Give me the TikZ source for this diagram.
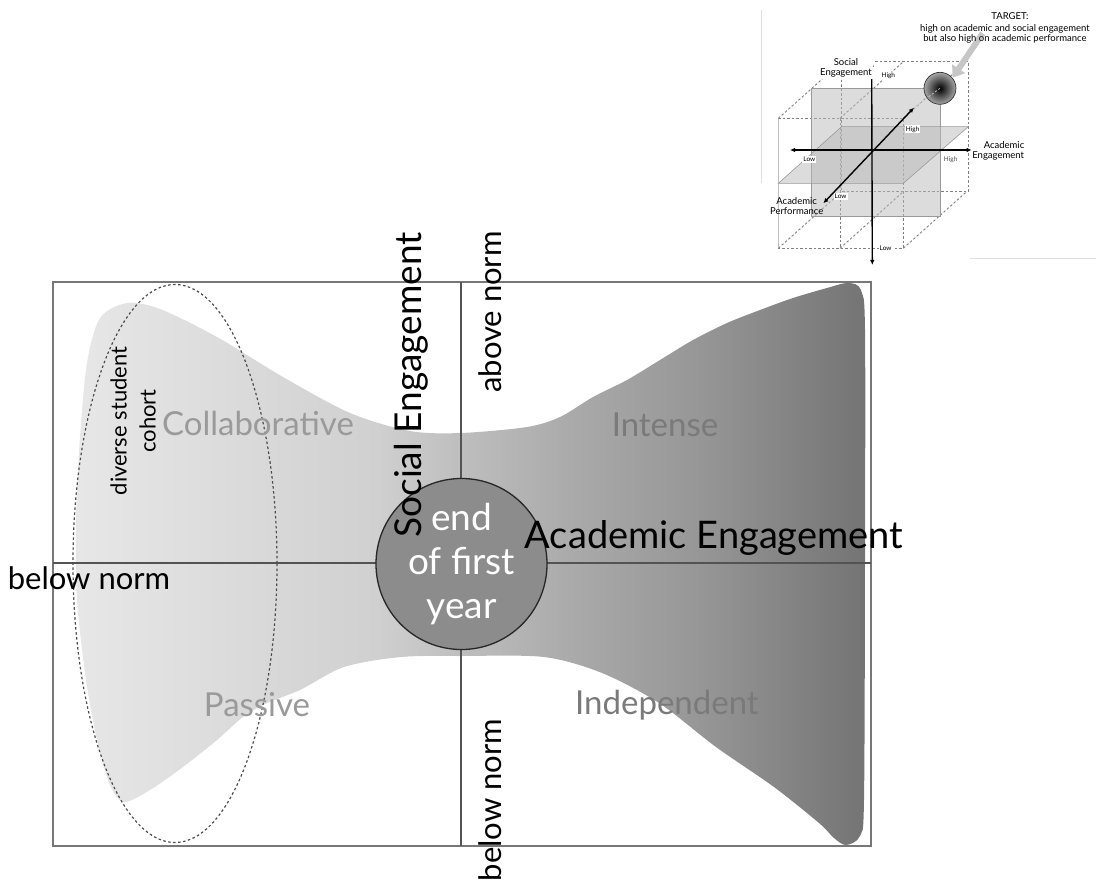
\documentclass[tikz,border=0pt]{standalone}
\usepackage{fontspec}
\setmainfont{Lato}
\usetikzlibrary{arrows.meta}

\definecolor{quadgray}{HTML}{9A9A9A}
\definecolor{quaddark}{HTML}{7A7A7A}
\definecolor{framegray}{HTML}{777777}
\definecolor{yeargray}{HTML}{8C8C8C}
\definecolor{shA}{HTML}{E7E7E7}
\definecolor{shB}{HTML}{D0D0D0}
\definecolor{shC}{HTML}{BCBCBC}
\definecolor{shD}{HTML}{ABABAB}
\definecolor{shE}{HTML}{959595}
\definecolor{shF}{HTML}{747474}

\pgfdeclarehorizontalshading{funnelshade}{100bp}{color(0bp)=(shA); color(25bp)=(shA);
  color(44bp)=(shB); color(50bp)=(shC); color(56bp)=(shD); color(65bp)=(shE);
  color(75bp)=(shF); color(100bp)=(shF)}

\tikzset{
  quadlabel/.style={text=quadgray,font=\fontsize{33}{33}\selectfont},
  bigtext/.style={font=\fontsize{38}{38}\selectfont},
  normtext/.style={font=\fontsize{31}{31}\selectfont},
  cohortdash/.style={black!70,line width=1.2pt,dash pattern=on 2.5pt off 2.5pt},
  cubedash/.style={gray,line width=0.9pt,dash pattern=on 2.5pt off 2pt},
  cubeplane/.style={fill=gray!55,fill opacity=0.5,draw=gray!80,line width=0.6pt},
  cubeaxis/.style={line width=1.4pt,{Latex[length=5pt,width=4.5pt]}-{Latex[length=5pt,width=4.5pt]}},
  lowhigh/.style={fill=white,inner sep=1pt,font=\fontsize{6.5}{6.5}\selectfont},
  cubetext/.style={font=\fontsize{9.5}{10}\selectfont,align=center,inner sep=1pt},
}

\begin{document}
\begin{tikzpicture}[x=1pt,y=-1pt]
\useasboundingbox (0,0) rectangle (1096,886);

% frame and quadrant axes
\coordinate (nw) at (53,282);
\coordinate (se) at (871,846);
\coordinate (west) at (53,563);
\coordinate (east) at (871,563);
\coordinate (north) at (461,282);
\coordinate (south) at (461,846);

% the funnel of student profiles
\shade[shading=funnelshade]
  plot[smooth cycle,tension=0.5] coordinates {
    (87,363) (100,318) (127,303) (160,309) (217,337) (283,377) (350,413)
    (410,431) (461,433) (527,427) (560,417) (593,397) (627,380) (660,360)
    (693,340) (727,323) (760,310) (793,298) (827,288) (848,283) (861,290)
    (865,330) (865,560) (864,800) (860,836) (846,845) (834,838)
    (819,823) (774,787) (716,747) (659,703) (602,673) (544,657) (461,656)
    (401,657) (344,667) (300,690) (267,703) (243,717) (217,740) (183,767)
    (150,790) (124,802) (110,785) (97,740) (86,680) (77,600) (76,520) (80,437)};

\draw[framegray,line width=1.3pt] (nw) rectangle (se);
\draw[framegray!70!black,line width=1.1pt] (west) -- (east);
\draw[framegray!70!black,line width=1.1pt] (north) -- (south);

% diverse cohort
\draw[cohortdash] (175,563.5) ellipse [x radius=102, y radius=279];
\node[rotate=90,align=center,font=\fontsize{22}{29}\selectfont] (cohort) at (133,421) {diverse student\\cohort};

% quadrant names
\node[quadlabel] (collab) at (258,423) {Collaborative};
\node[quadlabel,text=quaddark] (intense) at (665,425) {Intense};
\node[quadlabel] (passive) at (257,705) {Passive};
\node[quadlabel,text=quaddark] (indep) at (667,705) {Independent};

% end of first year
\node[circle,minimum size=166pt,fill=yeargray,draw=black!85,line width=1.3pt,
  text=white,align=center,font=\fontsize{37}{44}\selectfont] (firstyear) at (461.5,564) {end\\of first\\year};

% axis names
\node[bigtext,rotate=90,font=\fontsize{37}{37}\selectfont] (socaxis) at (411,385) {Social Engagement};
\node[bigtext] (acaaxis) at (714,538) {Academic Engagement};
\node[normtext] (belowleft) at (89,578) {below norm};
\node[normtext,rotate=90] (abovetop) at (490,312) {above norm};
\node[normtext,rotate=90] (belowbot) at (490,800) {below norm};

% inset cube
\begin{scope}[xshift=740pt,x=0.3333pt,y=-0.3333pt]
  \draw[gray!25,line width=0.8pt] (65,30) -- (65,550);
  \draw[gray!25,line width=0.8pt] (690,775) -- (1068,775);
  % back face, front face and depth edges
  \draw[cubedash] (305,185) rectangle (685,575);
  \draw[cubedash] (115,355) -- (490,355) -- (490,745) -- (115,745);
  \draw[gray!50,line width=0.6pt] (115,355) -- (115,745);
  \draw[cubedash] (300,355) -- (300,745);
  \foreach \x/\y in {115/355,300/355,490/355,115/745,300/745,490/745}
    \draw[cubedash] (\x,\y) -- ++(190,-170);
  % planes
  \draw[cubeplane] (215,265) rectangle (600,650);
  \draw[cubeplane] (115,550) -- (490,550) -- (685,380) -- (305,380) -- cycle;
  % axes
  \coordinate (socHi) at (395,185);
  \coordinate (socLo) at (397,795);
  \coordinate (acaLo) at (150,450);
  \coordinate (acaHi) at (695,450);
  \coordinate (perfLo) at (250,610);
  \coordinate (perfHi) at (522,323);
  \draw[cubeaxis] (socLo) -- (socHi);
  \draw[cubeaxis] (acaLo) -- (acaHi);
  \draw[cubeaxis] (perfLo) -- (perfHi);
  % target
  \node[circle,minimum size=32pt,inner color=black,outer color=gray!70,draw=black!80,line width=0.7pt] (target) at (600,265) {};
  \draw[gray!40,dash pattern=on 2pt off 2pt,line width=0.7pt] (target.center) -- (perfHi);
  \coordinate (hint) at (728,100);
  \draw[gray!45,line width=6pt,-{Triangle[length=11pt,width=15pt]}] (hint) -- (target.40);
  % labels
  \node[cubetext] (tgt) at (810,48) {TARGET:};
  \node[cubetext] (tgtdesc) at (795,101) {high on academic and social engagement\\but also high on academic performance};
  \node[cubetext,fill=white] (soclab) at (318,205) {Social\\Engagement};
  \node[cubetext,align=left] (acalab) at (775,452) {\hspace*{1.2em}Academic\\Engagement};
  \node[cubetext] (perflab) at (170,618) {Academic\\Performance};
  \node[lowhigh] (sochigh) at (445,228) {High};
  \node[lowhigh] (perfhigh) at (518,388) {High};
  \node[lowhigh] (acalow) at (208,478) {Low};
  \node[lowhigh,text=black!70] (acahigh) at (632,478) {High};
  \node[lowhigh] (perflow) at (302,590) {Low};
  \node[lowhigh] (soclow) at (437,745) {Low};
\end{scope}
\end{tikzpicture}
\end{document}
